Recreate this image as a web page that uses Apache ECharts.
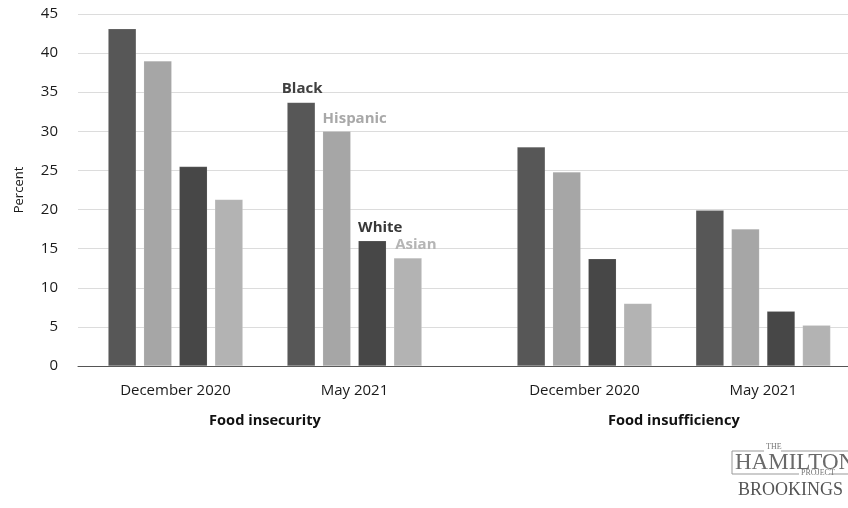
<!DOCTYPE html>
<html>
<head>
<meta charset="utf-8">
<script src="https://cdn.jsdelivr.net/npm/echarts@6/dist/echarts.min.js"></script>
<style>html,body{margin:0;padding:0;background:#fff}#c{width:848px;height:508px}</style>
</head>
<body>
<div id="c"></div>
<script>
// Data
var periods = ['December 2020', 'May 2021'];
var measures = ['Food insecurity', 'Food insufficiency'];
var races = ['Black', 'Hispanic', 'White', 'Asian'];
// values: [Food insecurity Dec 2020, Food insecurity May 2021, Food insufficiency Dec 2020, Food insufficiency May 2021]
var blackVals    = [43.1, 33.7, 28.0, 19.9];
var hispanicVals = [39.0, 30.0, 24.8, 17.5];
var whiteVals    = [25.5, 16.0, 13.7, 7.0];
var asianVals    = [21.3, 13.8, 8.0, 5.2];
var yTicks = [0, 5, 10, 15, 20, 25, 30, 35, 40, 45];

var FONT = 'Open Sans';
var raceVals = [blackVals, hispanicVals, whiteVals, asianVals];
var barColors = ['#575757', '#a6a6a6', '#474747', '#b3b3b3'];
var labelColors = ['#404040', '#a8a8a8', '#383838', '#b5b5b5'];
var labelOffsets = [[1, 0], [18, 1], [8, 0], [8, 0]];

var chart = echarts.init(document.getElementById('c'), null, {renderer: 'canvas'});

// groups are placed on the tick points (boundaryGap false) of each sub-grid
var grids = [
  {left: 78, right: 0, top: 14, bottom: 142},
  {left: 175.5, right: 493.5, top: 14, bottom: 142},
  {left: 584.5, right: 84.8, top: 14, bottom: 142}
];

var xAxes = [
  {gridIndex: 0, type: 'value', min: 0, max: 1, axisLabel: {show: false}, splitLine: {show: false},
   axisTick: {show: false}, axisLine: {show: true, lineStyle: {color: '#555', width: 1}}}
];
var yAxes = [
  {gridIndex: 0, type: 'value', min: yTicks[0], max: yTicks[yTicks.length - 1], interval: yTicks[1] - yTicks[0],
   name: 'Percent', nameLocation: 'middle', nameGap: 52, nameRotate: 90,
   nameTextStyle: {fontFamily: FONT, fontSize: 13, color: '#1a1a1a'},
   axisLine: {show: false}, axisTick: {show: false},
   axisLabel: {margin: 20, fontFamily: FONT, fontSize: 15, color: '#1a1a1a'},
   splitLine: {show: true, lineStyle: {color: '#dcdcdc', width: 1}}}
];
for (var g = 0; g < 2; g++) {
  xAxes.push({gridIndex: g + 1, type: 'category', data: periods, boundaryGap: false,
    axisLine: {show: false}, axisTick: {show: false}, splitLine: {show: false},
    axisLabel: {margin: 17, fontFamily: FONT, fontSize: 15, color: '#1a1a1a'},
    name: measures[g], nameLocation: 'middle', nameGap: 47,
    nameTextStyle: {fontFamily: FONT, fontSize: 14.6, fontWeight: 'bold', color: '#111'}});
  yAxes.push({gridIndex: g + 1, type: 'value', min: yTicks[0], max: yTicks[yTicks.length - 1], show: false,
    splitLine: {show: false}});
}

var series = [];
for (var g = 0; g < 2; g++) {
  for (var r = 0; r < races.length; r++) {
    var vals = raceVals[r].slice(g * 2, g * 2 + 2);
    var data = vals.map(function (v, i) {
      if (g === 0 && i === 1) {
        return {value: v, label: {show: true, position: 'top', distance: 6,
          offset: labelOffsets[r], formatter: races[r],
          fontFamily: FONT, fontSize: 15, fontWeight: 'bold', color: labelColors[r]}};
      }
      return v;
    });
    series.push({
      name: races[r], type: 'bar', xAxisIndex: g + 1, yAxisIndex: g + 1,
      barWidth: 28, barGap: '27%',
      itemStyle: {color: barColors[r], borderColor: 'rgba(255,255,255,0.25)', borderWidth: 0.5},
      label: {show: false},
      data: data, silent: true, animation: false
    });
  }
}

var option = {
  backgroundColor: '#fff',
  animation: false,
  grid: grids,
  xAxis: xAxes,
  yAxis: yAxes,
  series: series,
  graphic: [
    {type: 'line', shape: {x1: 732, y1: 451, x2: 764, y2: 451}, style: {stroke: '#999', lineWidth: 1}},
    {type: 'line', shape: {x1: 781, y1: 451, x2: 848, y2: 451}, style: {stroke: '#999', lineWidth: 1}},
    {type: 'line', shape: {x1: 732, y1: 451, x2: 732, y2: 474}, style: {stroke: '#999', lineWidth: 1}},
    {type: 'line', shape: {x1: 732, y1: 474, x2: 799, y2: 474}, style: {stroke: '#999', lineWidth: 1}},
    {type: 'line', shape: {x1: 829, y1: 474, x2: 848, y2: 474}, style: {stroke: '#999', lineWidth: 1}},
    {type: 'text', left: 766, top: 443, style: {text: 'THE', font: '8px "Liberation Serif"', fill: '#777'}},
    {type: 'text', left: 735, top: 451, style: {text: 'HAMILTON', font: '23px "Liberation Serif"', fill: '#6a6a6a'}},
    {type: 'text', left: 801, top: 469, style: {text: 'PROJECT', font: '8px "Liberation Serif"', fill: '#777'}},
    {type: 'text', left: 738, top: 481, style: {text: 'BROOKINGS', font: '18px "Liberation Serif"', fill: '#555'}}
  ]
};
chart.setOption(option);
</script>
</body>
</html>
